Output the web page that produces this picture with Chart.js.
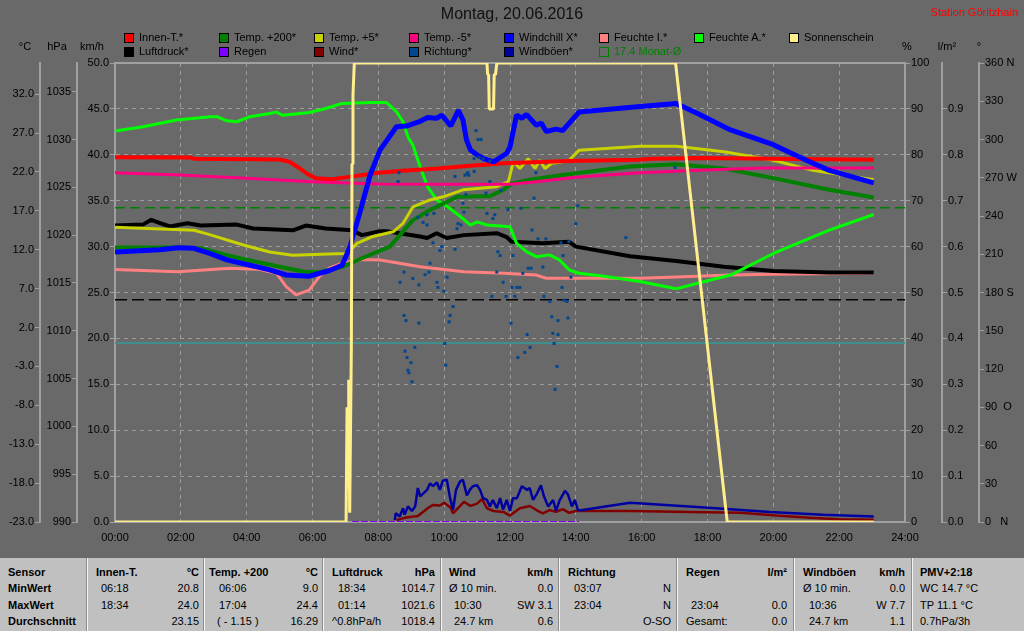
<!DOCTYPE html>
<html lang="de">
<head>
<meta charset="utf-8">
<title>Montag, 20.06.2016</title>
<script src="https://cdn.jsdelivr.net/npm/chart.js@4.4.1/dist/chart.umd.min.js"></script>
<style>
  body { margin: 0; background: #696969; }
  #wrap { position: relative; width: 1024px; height: 631px; overflow: hidden; background: #696969;
          font-family: "Liberation Sans", Arial, sans-serif; font-size: 11px; color: #000; }
  #chart { position: absolute; left: 0; top: 0; }
  .t { position: absolute; white-space: pre; line-height: 13px; }
  #title { left: 0; width: 1024px; top: 5px; text-align: center; font-size: 16px; line-height: 18px; color: #101010; }
  #station { right: 6px; top: 6px; color: #ff0000; }
  .unit { top: 40px; width: 40px; margin-left: -20px; text-align: center; }
  .lg { position: absolute; width: 92px; height: 12px; }
  .lg i { position: absolute; left: 0; top: 0; width: 8px; height: 8px; border: 1px solid #000; }
  .lg span { position: absolute; left: 15px; top: -2px; line-height: 13px; white-space: pre; }
  #stats { position: absolute; left: 0; top: 558px; width: 1024px; height: 73px; background: #c0c0c0; }
  .col { position: absolute; top: 0; height: 73px; }
  .col.sep { border-left: 1px solid #f4f4f4; box-shadow: -1px 0 0 #8c8c8c; }
  .col div { position: absolute; white-space: pre; line-height: 13px; }
  .r0 { top: 8px; } .r1 { top: 24px; } .r2 { top: 41px; } .r3 { top: 57px; }
  .b { font-weight: bold; }
</style>
</head>
<body>
<div id="wrap">
  <canvas id="chart" width="1024" height="558"></canvas>
  <div id="title" class="t">Montag, 20.06.2016</div>
  <div id="station" class="t">Station Göritzhain</div>
  <div class="t unit" style="left:25px">°C</div>
  <div class="t unit" style="left:57px">hPa</div>
  <div class="t unit" style="left:92px">km/h</div>
  <div class="t unit" style="left:907px">%</div>
  <div class="t unit" style="left:947px">l/m²</div>
  <div class="t unit" style="left:979px">°</div>
  <div id="legend"></div>

  <div id="stats">
    <div class="col" style="left:0;width:87px">
      <div class="r0 b" style="left:8px">Sensor</div>
      <div class="r1 b" style="left:8px">MinWert</div>
      <div class="r2 b" style="left:8px">MaxWert</div>
      <div class="r3 b" style="left:8px">Durchschnitt</div>
    </div>
    <div class="col sep" style="left:87px;width:116px">
      <div class="r0 b" style="left:8px">Innen-T.</div><div class="r0 b" style="right:5px">°C</div>
      <div class="r1" style="left:13px">06:18</div><div class="r1" style="right:5px">20.8</div>
      <div class="r2" style="left:13px">18:34</div><div class="r2" style="right:5px">24.0</div>
      <div class="r3" style="right:5px">23.15</div>
    </div>
    <div class="col sep" style="left:204px;width:118px">
      <div class="r0 b" style="left:4px">Temp. +200</div><div class="r0 b" style="right:5px">°C</div>
      <div class="r1" style="left:14px">06:06</div><div class="r1" style="right:5px">9.0</div>
      <div class="r2" style="left:14px">17:04</div><div class="r2" style="right:5px">24.4</div>
      <div class="r3" style="left:12px">( - 1.15 )</div><div class="r3" style="right:5px">16.29</div>
    </div>
    <div class="col sep" style="left:323px;width:117px">
      <div class="r0 b" style="left:8px">Luftdruck</div><div class="r0 b" style="right:6px">hPa</div>
      <div class="r1" style="left:14px">18:34</div><div class="r1" style="right:6px">1014.7</div>
      <div class="r2" style="left:14px">01:14</div><div class="r2" style="right:6px">1021.6</div>
      <div class="r3" style="left:8px">^0.8hPa/h</div><div class="r3" style="right:6px">1018.4</div>
    </div>
    <div class="col sep" style="left:441px;width:117px">
      <div class="r0 b" style="left:7px">Wind</div><div class="r0 b" style="right:6px">km/h</div>
      <div class="r1" style="left:7px">Ø 10 min.</div><div class="r1" style="right:6px">0.0</div>
      <div class="r2" style="left:12px">10:30</div><div class="r2" style="right:6px">SW 3.1</div>
      <div class="r3" style="left:12px">24.7 km</div><div class="r3" style="right:6px">0.6</div>
    </div>
    <div class="col sep" style="left:559px;width:117px">
      <div class="r0 b" style="left:8px">Richtung</div>
      <div class="r1" style="left:14px">03:07</div><div class="r1" style="right:6px">N</div>
      <div class="r2" style="left:14px">23:04</div><div class="r2" style="right:6px">N</div>
      <div class="r3" style="right:6px">O-SO</div>
    </div>
    <div class="col sep" style="left:677px;width:116px">
      <div class="r0 b" style="left:8px">Regen</div><div class="r0 b" style="right:7px">l/m²</div>
      <div class="r2" style="left:13px">23:04</div><div class="r2" style="right:7px">0.0</div>
      <div class="r3" style="left:8px">Gesamt:</div><div class="r3" style="right:7px">0.0</div>
    </div>
    <div class="col sep" style="left:794px;width:117px">
      <div class="r0 b" style="left:8px">Windböen</div><div class="r0 b" style="right:7px">km/h</div>
      <div class="r1" style="left:8px">Ø 10 min.</div><div class="r1" style="right:7px">0.0</div>
      <div class="r2" style="left:14px">10:36</div><div class="r2" style="right:7px">W 7.7</div>
      <div class="r3" style="left:14px">24.7 km</div><div class="r3" style="right:7px">1.1</div>
    </div>
    <div class="col sep" style="left:912px;width:111px">
      <div class="r0 b" style="left:7px">PMV+2:18</div>
      <div class="r1" style="left:7px">WC 14.7 °C</div>
      <div class="r2" style="left:7px">TP 11.1 °C</div>
      <div class="r3" style="left:7px">0.7hPa/3h</div>
    </div>
  </div>
</div>

<script>
// Achsen
const hourTicks = [0, 2, 4, 6, 8, 10, 12, 14, 16, 18, 20, 22, 24];
const hourTickLabels = ['00:00', '02:00', '04:00', '06:00', '08:00', '10:00', '12:00',
                        '14:00', '16:00', '18:00', '20:00', '22:00', '24:00'];
const tempTicks = [-23, -18, -13, -8, -3, 2, 7, 12, 17, 22, 27, 32];
const hpaTicks = [990, 995, 1000, 1005, 1010, 1015, 1020, 1025, 1030, 1035];
const kmhTicks = [0, 5, 10, 15, 20, 25, 30, 35, 40, 45, 50];
const pctTicks = [0, 10, 20, 30, 40, 50, 60, 70, 80, 90, 100];
const rainTicks = [0, 0.1, 0.2, 0.3, 0.4, 0.5, 0.6, 0.7, 0.8, 0.9];
const degTicks = [0, 30, 60, 90, 120, 150, 180, 210, 240, 270, 300, 330, 360];
const degTickLabels = ['0   N', '30', '60', '90  O', '120', '150', '180 S', '210', '240', '270 W', '300', '330', '360 N'];

// Referenzlinien
const monthAvgTemp = 17.4;
const normalPressure = 1013.25;
const frostLine = 0;

// Innen-T. (°C)
const innenHours = [0, 2.3, 2.4, 5.0, 5.3, 5.6, 5.9, 6.1, 6.6, 7.0, 8.0, 8.75, 9.8, 10.8, 11.8, 13.8, 15.9, 16.3, 17.8, 22.2, 23.05];
const innenTemp = [23.9, 23.85, 23.7, 23.6, 23.3, 22.5, 21.6, 21.2, 21.05, 21.3, 21.9, 22.15, 22.45, 22.8, 23.1, 23.4, 23.55, 23.7, 23.8, 23.6, 23.55];

// Temp. +200 (°C)
const temp200Hours = [0, 1.9, 2.6, 3.4, 3.9, 4.9, 5.7, 6.2, 6.5, 6.9, 7.5, 8.35, 9.05, 9.57, 10.4, 11.4, 11.8, 12.05, 12.6, 13.6, 15.65, 17.05, 18.5, 20.0, 21.7, 23.05];
const temp200 = [12.3, 12.3, 12.2, 11.3, 10.8, 9.9, 9.2, 9.1, 9.4, 9.8, 10.9, 12.4, 15.8, 17.1, 18.8, 18.9, 19.7, 20.5, 21.0, 21.6, 22.7, 23.0, 22.45, 21.2, 19.7, 18.7];

// Temp. +5 (°C)
const temp5Hours = [0, 2.4, 2.9, 3.9, 4.7, 5.4, 6.5, 7.05, 7.35, 7.84, 8.45, 8.75, 9.05, 9.57, 9.97, 10.57, 11.6, 11.95, 12.1, 12.3, 12.55, 12.76, 12.9, 13.06, 13.27, 13.6, 13.8, 14.1, 15.95, 17.05, 18.5, 20.0, 21.2, 23.05];
const temp5 = [14.9, 14.5, 13.9, 12.6, 11.7, 11.3, 11.45, 11.5, 12.8, 13.7, 14.3, 15.4, 17.5, 18.4, 18.8, 19.7, 20.1, 20.75, 23.3, 22.45, 23.7, 22.45, 23.5, 22.45, 23.1, 23.3, 23.5, 24.8, 25.3, 25.3, 24.6, 23.5, 22.2, 21.0];

// Temp. -5 (°C)
const tempM5Hours = [0, 2, 4, 6, 8, 10, 12, 12.8, 14, 15.95, 17.7, 19.7, 23.05];
const tempM5 = [21.9, 21.6, 21.2, 20.75, 20.45, 20.4, 20.4, 20.75, 21.3, 21.9, 22.2, 22.5, 22.5];

// Windchill (°C)
const chillHours = [0, 1.37, 1.9, 2.37, 2.9, 3.4, 4.1, 4.7, 5.2, 5.9, 6.5, 6.9, 7.14, 7.44, 7.75, 8.05, 8.55, 8.85, 9.27, 9.5, 9.77, 9.93, 10.2, 10.43, 10.57, 10.68, 10.8, 11.0, 11.2, 11.5, 11.9, 12.0, 12.2, 12.36, 12.5, 12.8, 12.95, 13.1, 13.4, 13.6, 14.1, 15.95, 17.05, 17.7, 18.7, 20.0, 21.0, 21.7, 23.05];
const chillTemp = [11.7, 12.0, 12.25, 12.2, 11.5, 10.7, 10.0, 9.4, 8.75, 8.6, 9.3, 10.0, 12.4, 16.8, 21.6, 24.8, 27.8, 27.9, 28.5, 29.0, 28.9, 29.3, 27.9, 29.9, 28.7, 26.1, 24.8, 24.2, 23.7, 23.3, 24.4, 25.2, 29.3, 28.9, 29.4, 28.0, 28.3, 27.2, 27.5, 27.3, 29.7, 30.4, 30.8, 29.5, 27.4, 25.5, 23.5, 22.2, 20.6];

// Feuchte innen (%)
const humInHours = [0, 1.9, 3.5, 4.4, 4.9, 5.2, 5.5, 5.9, 6.2, 6.5, 6.9, 7.45, 8.05, 9.27, 10.6, 11.8, 12.8, 13.1, 15.95, 17.05, 18.7, 20.0, 23.05];
const humIn = [55.0, 54.5, 55.3, 55.0, 54.2, 51.3, 49.5, 50.5, 53.4, 55.3, 56.4, 57.2, 57.1, 55.6, 54.5, 54.2, 53.8, 53.1, 53.1, 53.4, 53.8, 54.0, 54.2];

// Feuchte außen (%)
const humOutHours = [0, 0.85, 1.87, 2.9, 3.1, 3.4, 3.7, 4.1, 4.7, 4.9, 5.1, 5.9, 6.4, 6.9, 7.75, 8.25, 8.55, 8.75, 8.9, 9.05, 9.27, 9.5, 9.77, 10.1, 10.5, 10.8, 11.0, 11.3, 12.0, 12.2, 12.5, 12.8, 13.2, 13.5, 13.8, 14.1, 14.8, 15.95, 17.05, 17.7, 18.7, 20.0, 21.7, 23.05];
const humOut = [85.2, 86.1, 87.6, 88.3, 88.3, 87.4, 87.2, 88.3, 89.0, 89.3, 88.6, 89.2, 90.1, 91.2, 91.4, 91.4, 89.4, 87.2, 83.9, 82.1, 77.4, 73.0, 70.2, 68.7, 66.5, 64.7, 65.4, 64.7, 64.3, 60.7, 58.9, 57.8, 58.2, 57.1, 54.9, 54.2, 53.6, 52.4, 50.8, 52.0, 53.8, 58.5, 63.6, 67.0];

// Sonnenschein (%)
const sunHours = [0, 7.02, 7.05, 7.08, 7.1, 7.13, 7.18, 7.2, 7.23, 7.27, 11.3, 11.32, 11.35, 11.37, 11.5, 11.52, 11.56, 11.6, 17.03, 18.6, 23.05];
const sunPct = [0, 0, 25, 8, 31, 2, 38, 78, 93, 100, 100, 97.5, 97.5, 90, 90, 97.5, 97.5, 100, 100, 0, 0];

// Luftdruck (hPa)
const pressHours = [0, 0.85, 1.1, 1.37, 1.67, 2.2, 2.6, 3.7, 4.2, 5.4, 5.8, 6.4, 7.2, 7.5, 8.05, 8.25, 9.27, 9.48, 9.77, 10.08, 10.6, 11.6, 11.9, 12.05, 13.0, 13.8, 14.0, 15.65, 17.05, 18.5, 20.0, 21.7, 23.05];
const pressure = [1021.0, 1021.1, 1021.6, 1021.25, 1020.9, 1021.25, 1021.0, 1021.1, 1020.7, 1020.5, 1021.0, 1020.7, 1020.5, 1020.0, 1020.4, 1020.4, 1019.85, 1019.7, 1020.2, 1019.7, 1020.0, 1020.2, 1019.8, 1019.3, 1019.15, 1019.3, 1018.8, 1017.8, 1017.3, 1016.7, 1016.25, 1016.1, 1016.1];

// Regen (l/m²)
const rainHours = [7.2, 14.1];
const rain = [0, 0];

// Wind (km/h)
const windHours = [8.55, 8.85, 9.2, 9.5, 9.65, 9.87, 10.0, 10.2, 10.27, 10.42, 10.6, 10.8, 11.0, 11.15, 11.3, 11.5, 11.8, 12.0, 12.3, 12.6, 12.8, 13.0, 13.2, 13.4, 13.6, 13.8, 14.0, 15.65, 17.5, 19.0, 20.1, 21.1, 22.0, 23.05];
const wind = [0.2, 0.5, 0.65, 1.5, 1.85, 1.8, 2.1, 1.55, 0.95, 1.5, 2.2, 1.75, 2.0, 2.5, 1.5, 1.2, 1.1, 0.7, 1.5, 1.75, 1.3, 0.95, 1.3, 1.1, 1.4, 1.0, 1.2, 1.2, 1.1, 1.0, 0.7, 0.45, 0.3, 0.25];

// Windböen (km/h)
const gustHours = [8.5, 8.53, 8.65, 8.75, 8.8, 8.9, 9.02, 9.12, 9.2, 9.27, 9.36, 9.48, 9.57, 9.66, 9.78, 9.87, 9.96, 10.08, 10.18, 10.27, 10.36, 10.48, 10.57, 10.69, 10.78, 10.87, 11.0, 11.09, 11.18, 11.3, 11.39, 11.48, 11.6, 11.7, 11.79, 11.9, 12.0, 12.09, 12.21, 12.36, 12.52, 12.6, 12.7, 12.82, 12.94, 13.03, 13.16, 13.31, 13.4, 13.5, 13.67, 13.76, 13.88, 13.97, 14.06, 14.1, 15.65, 17.8, 19.9, 21.5, 23.05];
const gust = [0.2, 0.95, 0.6, 1.5, 0.8, 1.7, 1.2, 1.7, 3.7, 2.8, 3.1, 3.5, 4.2, 3.9, 4.3, 3.5, 4.5, 4.6, 2.6, 1.35, 3.5, 4.4, 4.6, 2.9, 3.5, 3.9, 4.0, 3.5, 2.6, 2.4, 1.7, 2.4, 1.5, 2.6, 1.35, 2.4, 1.2, 2.6, 2.6, 3.9, 3.5, 3.7, 2.4, 3.1, 4.0, 2.8, 1.7, 2.4, 1.2, 2.3, 3.4, 3.0, 1.7, 2.4, 1.35, 1.25, 2.1, 1.6, 1.1, 0.8, 0.6];

// Windrichtung (°)
const dirHours = [8.60, 8.63, 8.66, 8.78, 8.78, 8.81, 8.84, 8.87, 8.90, 8.93,
  8.99, 9.02, 9.05, 9.11, 9.20, 9.23, 9.23, 9.36, 9.42, 9.48,
  9.48, 9.54, 9.57, 9.66, 9.69, 9.78, 9.81, 9.87, 9.93, 9.99,
  10.02, 10.05, 10.09, 10.15, 10.18, 10.27, 10.33, 10.33, 10.39, 10.42,
  10.51, 10.57, 10.60, 10.63, 10.66, 10.69, 10.72, 10.75, 10.91, 10.91,
  10.97, 11.03, 11.06, 11.12, 11.18, 11.27, 11.30, 11.39, 11.39, 11.45,
  11.48, 11.54, 11.60, 11.63, 11.70, 11.73, 11.79, 11.88, 11.94, 12.03,
  12.06, 12.09, 12.15, 12.21, 12.24, 12.30, 12.33, 12.39, 12.45, 12.52,
  12.55, 12.61, 12.64, 12.67, 12.73, 12.79, 12.85, 13.00, 13.03, 13.09,
  13.21, 13.27, 13.30, 13.34, 13.37, 13.43, 13.46, 13.46, 13.55, 13.58,
  13.61, 13.64, 13.73, 13.76, 13.79, 13.85, 14.00, 14.06, 15.52, 17.01];
const dirDeg = [267, 274, 188, 196, 162, 134, 158, 129, 119, 117,
  125, 110, 191, 137, 239, 186, 156, 235, 194, 233,
  241, 196, 203, 219, 242, 188, 184, 213, 216, 181,
  140, 123, 192, 157, 162, 169, 214, 271, 230, 234,
  233, 250, 243, 272, 257, 273, 274, 272, 285, 275,
  307, 300, 286, 300, 285, 258, 242, 283, 267, 177,
  238, 241, 196, 212, 209, 260, 188, 177, 245, 156,
  184, 209, 177, 184, 129, 184, 246, 195, 133, 147,
  199, 137, 199, 229, 254, 274, 222, 200, 177, 222,
  173, 161, 148, 140, 104, 122, 147, 158, 219, 184,
  209, 174, 173, 160, 220, 192, 234, 248, 223, 278];

const FONT = '"Liberation Sans", Arial, sans-serif';
const AXIS_GREY = '#a0a0a0';
const GRID_GREY = '#9c9c9c';
const NONE = 'rgba(0,0,0,0)';

Chart.defaults.font.family = FONT;
Chart.defaults.font.size = 11;
Chart.defaults.color = '#000';

function pts(hours, values) {
  return hours.map((h, i) => ({ x: h, y: values[i] }));
}

function linie(label, axis, hours, values, color, width, order, extra) {
  return Object.assign({
    label: label,
    yAxisID: axis,
    data: pts(hours, values),
    borderColor: color,
    backgroundColor: color,
    borderWidth: width,
    borderJoinStyle: 'bevel',
    pointRadius: 0,
    pointHoverRadius: 0,
    fill: false,
    tension: 0,
    order: order
  }, extra || {});
}

const datasets = [
  linie('Sonnenschein', 'pct', sunHours, sunPct, '#ffee8c', 3, 0),
  {
    label: 'Richtung*', yAxisID: 'deg', data: pts(dirHours, dirDeg), showLine: false,
    pointStyle: 'rect', pointRadius: 2.1, pointBorderWidth: 0, pointHoverRadius: 0,
    backgroundColor: '#00478f', borderColor: '#00478f', order: 1
  },
  linie('Windchill X*', 'temp', chillHours, chillTemp, '#0000ff', 5, 2),
  linie('Innen-T.*', 'temp', innenHours, innenTemp, '#ff0000', 4, 3),
  linie('Temp. -5*', 'temp', tempM5Hours, tempM5, '#ff0080', 3, 4),
  linie('Temp. +5*', 'temp', temp5Hours, temp5, '#c8d200', 3, 5),
  linie('Temp. +200*', 'temp', temp200Hours, temp200, '#008000', 4, 6),
  linie('Feuchte A.*', 'pct', humOutHours, humOut, '#00ff00', 3, 7),
  linie('Luftdruck*', 'hpa', pressHours, pressure, '#000000', 4, 8),
  linie('Feuchte I.*', 'pct', humInHours, humIn, '#ff8080', 3, 9),
  linie('Windböen*', 'kmh', gustHours, gust, '#0000a0', 2.5, 10),
  linie('Wind*', 'kmh', windHours, wind, '#800000', 2.5, 11),
  linie('Regen', 'rain', rainHours, rain, '#8000ff', 2, 12, { borderDash: [7, 2] }),
  linie('17.4 Monat-Ø', 'temp', [0, 24], [monthAvgTemp, monthAvgTemp], '#008000', 1.5, 13, { borderDash: [10, 5] }),
  linie('Normaldruck', 'hpa', [0, 24], [normalPressure, normalPressure], '#000000', 1.5, 14, { borderDash: [12, 5] }),
  linie('Frostgrenze', 'temp', [0, 24], [frostLine, frostLine], '#3f8f8f', 2, 15)
];

function seitenAchse(position, weight, width, min, max, ticks, label) {
  return {
    type: 'linear', position: position, weight: weight, min: min, max: max,
    afterBuildTicks: axis => { axis.ticks = ticks.map(v => ({ value: v })); },
    afterFit: axis => { axis.width = width; },
    border: { display: true, color: AXIS_GREY, width: 2 },
    grid: { drawOnChartArea: false, tickLength: 5, tickWidth: 1, tickColor: AXIS_GREY },
    ticks: { padding: 1, autoSkip: false, callback: label }
  };
}

const kmhAxis = seitenAchse('left', 1, 38, 0, 50, kmhTicks, v => v.toFixed(1));
kmhAxis.grid.drawOnChartArea = true;
kmhAxis.grid.color = c => (c.tick && (c.tick.value === 0 || c.tick.value === 50)) ? NONE : GRID_GREY;
kmhAxis.border.dash = [4, 4];

// oberer Rahmen der Zeichenfläche
const rahmen = {
  id: 'rahmen',
  beforeDatasetsDraw(chart) {
    const { ctx, chartArea: a } = chart;
    ctx.save();
    ctx.strokeStyle = AXIS_GREY;
    ctx.lineWidth = 2;
    ctx.beginPath();
    ctx.moveTo(a.left, a.top);
    ctx.lineTo(a.right, a.top);
    ctx.stroke();
    ctx.restore();
  }
};

const chart = new Chart(document.getElementById('chart').getContext('2d'), {
  type: 'line',
  data: { datasets: datasets },
  options: {
    responsive: false,
    animation: false,
    events: [],
    layout: { padding: { top: 63, left: 0, right: 0, bottom: 0 }, autoPadding: false },
    plugins: { legend: { display: false }, tooltip: { enabled: false } },
    scales: {
      x: {
        type: 'linear', min: 0, max: 24,
        afterBuildTicks: axis => { axis.ticks = hourTicks.map(v => ({ value: v })); },
        afterFit: axis => { axis.height = 36; },
        border: { display: true, color: AXIS_GREY, width: 2, dash: [4, 4] },
        grid: {
          drawTicks: false,
          color: c => (c.tick && (c.tick.value === 0 || c.tick.value === 24)) ? NONE : GRID_GREY
        },
        ticks: { padding: 9, maxRotation: 0, autoSkip: false, callback: (v, i) => hourTickLabels[i] }
      },
      kmh: kmhAxis,
      hpa: seitenAchse('left', 2, 37, 990, 1038, hpaTicks, v => String(v)),
      temp: seitenAchse('left', 3, 40, -23, 36, tempTicks, v => v.toFixed(1)),
      pct: seitenAchse('right', 1, 37, 0, 100, pctTicks, v => String(v)),
      rain: seitenAchse('right', 2, 37, 0, 1, rainTicks, v => v.toFixed(1)),
      deg: seitenAchse('right', 3, 45, 0, 360, degTicks, (v, i) => degTickLabels[i])
    }
  },
  plugins: [rahmen]
});

// Legende wie im Original: zwei Zeilen, feste Spalten
const legendRows = [
  ['Innen-T.*', 'Temp. +200*', 'Temp. +5*', 'Temp. -5*', 'Windchill X*', 'Feuchte I.*', 'Feuchte A.*', 'Sonnenschein'],
  ['Luftdruck*', 'Regen', 'Wind*', 'Richtung*', 'Windböen*', '17.4 Monat-Ø']
];
const legendHollow = ['17.4 Monat-Ø'];
const legend = document.getElementById('legend');
legendRows.forEach((row, r) => {
  row.forEach((label, c) => {
    const ds = chart.data.datasets.find(d => d.label === label);
    const item = document.createElement('div');
    item.className = 'lg';
    item.style.left = (124 + c * 95) + 'px';
    item.style.top = (33 + r * 14) + 'px';
    const box = document.createElement('i');
    const text = document.createElement('span');
    text.textContent = label;
    if (legendHollow.includes(label)) {
      box.style.background = 'none';
      box.style.borderColor = ds.borderColor;
      text.style.color = ds.borderColor;
    } else {
      box.style.background = ds.borderColor;
    }
    item.appendChild(box);
    item.appendChild(text);
    legend.appendChild(item);
  });
});
</script>
</body>
</html>
